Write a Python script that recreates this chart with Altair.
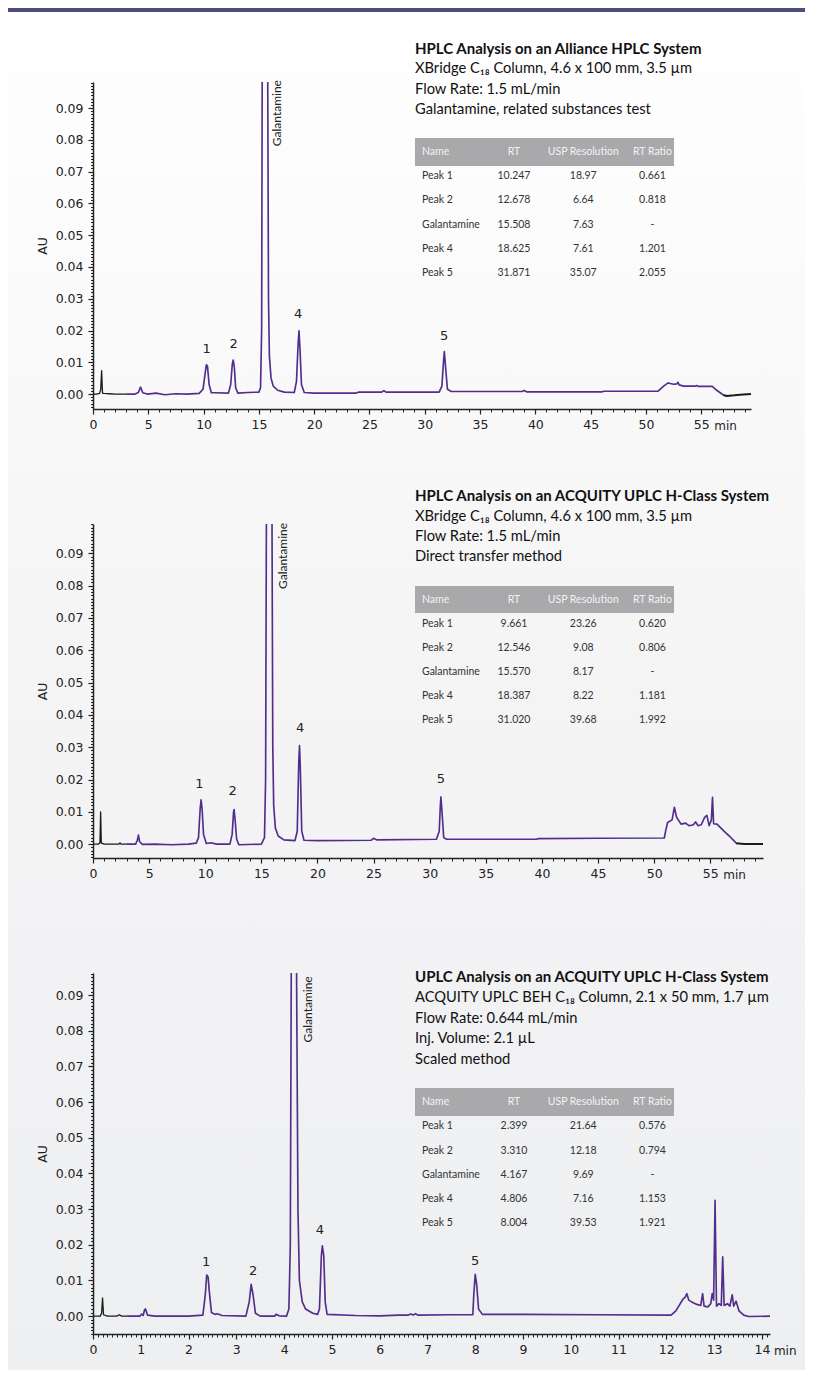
import altair as alt
import pandas as pd

# ---------------- data ----------------
# Panel 1: Alliance HPLC  (t in min, AU)
p1_pre = [(0.0, 0.0), (0.3, 0.0), (0.6, 0.0002), (0.7, 0.0015), (0.78, 0.0074), (0.86, 0.0003),
          (1.0, 0.0002), (1.5, 0.0001), (2.0, 0.0), (2.5, 0.0), (3.0, 0.0)]
p1_main = [(3.0, 0.0), (3.8, 0.0), (4.1, 0.0005), (4.3, 0.0022), (4.5, 0.0004), (4.9, 0.0),
           (5.7, 0.0003), (6.5, -0.0002), (7.5, 0.0001), (8.5, 0.0), (9.6, 0.0002), (9.95, 0.0015),
           (10.1, 0.0055), (10.25, 0.0092), (10.35, 0.0088), (10.5, 0.003), (10.7, 0.0004),
           (11.0, 0.0004), (12.25, 0.0003), (12.45, 0.003), (12.6, 0.0095), (12.68, 0.0107),
           (12.78, 0.0085), (12.9, 0.002), (13.1, 0.0003), (14.0, 0.0005), (15.0, 0.0006),
           (15.15, 0.002), (15.25, 0.02), (15.3, 0.1), (15.55, 0.104), (15.8, 0.1), (15.87, 0.03),
           (15.95, 0.012), (16.1, 0.005), (16.3, 0.0025), (16.7, 0.0012), (17.3, 0.0006),
           (18.2, 0.0005), (18.4, 0.004), (18.55, 0.016), (18.63, 0.0199), (18.72, 0.014),
           (18.85, 0.003), (19.1, 0.0005), (20.0, 0.0003), (23.8, 0.0003), (24.0, 0.0006),
           (26.1, 0.0006), (26.3, 0.0011), (26.5, 0.0006), (31.3, 0.0006), (31.55, 0.0025),
           (31.7, 0.0105), (31.77, 0.0134), (31.87, 0.009), (32.05, 0.0015), (32.4, 0.0008),
           (38.8, 0.0008), (39.0, 0.0011), (39.2, 0.0007), (46.0, 0.0007), (46.2, 0.0009),
           (51.1, 0.0009), (51.6, 0.0025), (52.0, 0.0035), (52.5, 0.0031), (52.8, 0.0032),
           (52.9, 0.0037), (53.0, 0.0029), (53.4, 0.0025), (54.5, 0.0025), (54.6, 0.0027),
           (54.7, 0.0024), (56.0, 0.0024), (56.4, 0.0012), (57.0, -0.0003)]
p1_post = [(57.0, -0.0003), (57.3, -0.0006), (58.0, -0.0004), (58.5, -0.0002), (59.5, 0.0)]
p1_peak_t = [10.28, 12.72, 18.56, 31.76]
p1_peak_au = [0.0142, 0.0158, 0.0253, 0.0183]
p1_gal = (16.66, 0.0884)

# Panel 2: ACQUITY UPLC H-Class, HPLC method
p2_pre = [(0.0, 0.0), (0.5, 0.0), (0.62, 0.0005), (0.68, 0.0100), (0.74, 0.0003), (1.0, 0.0),
          (2.3, 0.0), (2.4, 0.0004), (2.5, 0.0), (2.9, 0.0)]
p2_main = [(2.9, 0.0), (3.8, 0.0), (3.95, 0.0012), (4.05, 0.0028), (4.15, 0.0008), (4.4, -0.0001),
           (5.5, 0.0), (7.0, -0.0002), (8.5, 0.0), (9.2, 0.0003), (9.4, 0.002), (9.55, 0.011),
           (9.63, 0.0137), (9.72, 0.011), (9.85, 0.003), (10.1, 0.0002), (10.5, 0.0004), (11.0, 0.0),
           (12.2, 0.0), (12.4, 0.003), (12.52, 0.0098), (12.57, 0.0107), (12.65, 0.008),
           (12.8, 0.0015), (13.0, -0.0002), (15.0, 0.0), (15.28, 0.002), (15.38, 0.02),
           (15.45, 0.1), (15.7, 0.104), (15.95, 0.1), (16.02, 0.03), (16.1, 0.012), (16.25, 0.005),
           (16.5, 0.0025), (17.0, 0.0013), (18.0, 0.0011), (18.2, 0.004), (18.33, 0.025),
           (18.4, 0.0305), (18.47, 0.024), (18.6, 0.004), (18.8, 0.0012), (20.0, 0.0011),
           (24.8, 0.0012), (25.0, 0.0018), (25.3, 0.0013), (30.6, 0.0015), (30.85, 0.004),
           (30.95, 0.012), (31.0, 0.0146), (31.08, 0.011), (31.25, 0.002), (31.5, 0.0015),
           (39.5, 0.0015), (39.7, 0.0017), (45.0, 0.0018), (50.9, 0.0019), (51.05, 0.0045),
           (51.2, 0.0067), (51.6, 0.0075), (51.8, 0.0114), (52.0, 0.0083), (52.4, 0.0062),
           (52.8, 0.0065), (53.1, 0.0057), (53.5, 0.006), (53.7, 0.0069), (53.9, 0.0057),
           (54.2, 0.006), (54.5, 0.0083), (54.7, 0.0089), (54.9, 0.0057), (55.1, 0.0075),
           (55.2, 0.0145), (55.3, 0.0063), (55.6, 0.0062), (56.2, 0.0041), (56.7, 0.0025),
           (57.1, 0.0011), (57.3, 0.0003)]
p2_post = [(57.3, 0.0003), (58.0, 0.0), (59.7, 0.0)]
p2_peak_t = [9.48, 12.44, 18.46, 31.0]
p2_peak_au = [0.0186, 0.0165, 0.0361, 0.0201]
p2_gal = (16.89, 0.0892)

# Panel 3: ACQUITY UPLC H-Class, UPLC scaled method
p3_pre = [(0.0, 0.0), (0.15, 0.0), (0.18, 0.0008), (0.2, 0.0051), (0.22, 0.0004), (0.3, 0.0),
          (0.5, 0.0), (0.55, 0.0004), (0.6, 0.0), (0.71, 0.0)]
p3_main = [(0.71, 0.0), (0.98, 0.0), (1.02, 0.0006), (1.05, 0.0002), (1.08, 0.0018), (1.1, 0.002),
           (1.14, 0.0003), (1.3, 0.0), (2.0, 0.0), (2.3, 0.0003), (2.35, 0.006), (2.38, 0.0115),
           (2.41, 0.011), (2.43, 0.0075), (2.48, 0.001), (2.55, 0.0005), (2.6, 0.0007),
           (2.7, 0.0002), (3.2, 0.0), (3.27, 0.004), (3.31, 0.0089), (3.35, 0.006), (3.4, 0.0008),
           (3.5, 0.0), (3.8, 0.0), (3.83, 0.0005), (3.9, 0.0001), (4.05, 0.0), (4.1, 0.002),
           (4.13, 0.02), (4.15, 0.098), (4.2, 0.101), (4.26, 0.098), (4.29, 0.03), (4.32, 0.01),
           (4.38, 0.004), (4.45, 0.002), (4.6, 0.0008), (4.7, 0.0005), (4.74, 0.002),
           (4.78, 0.017), (4.80, 0.0197), (4.83, 0.017), (4.86, 0.004), (4.9, 0.0005),
           (5.5, 0.0002), (6.0, 0.0001), (6.4, 0.0003), (6.6, 0.0003), (6.65, 0.0006),
           (6.7, 0.0003), (6.75, 0.0007), (6.8, 0.0003), (7.5, 0.0004), (7.95, 0.0004),
           (7.97, 0.006), (8.0, 0.0117), (8.03, 0.009), (8.07, 0.002), (8.15, 0.0005),
           (9.0, 0.0005), (10.5, 0.0004), (12.1, 0.0003), (12.2, 0.0015), (12.35, 0.0048),
           (12.4, 0.0054), (12.43, 0.0063), (12.47, 0.0045), (12.53, 0.004), (12.64, 0.0033),
           (12.72, 0.003), (12.76, 0.0063), (12.79, 0.0028), (12.87, 0.0026), (12.93, 0.0035),
           (12.96, 0.0063), (12.99, 0.0045), (13.02, 0.0325), (13.05, 0.0028), (13.1, 0.0035),
           (13.15, 0.003), (13.18, 0.0166), (13.21, 0.003), (13.28, 0.0035), (13.33, 0.0028),
           (13.38, 0.006), (13.41, 0.0028), (13.46, 0.0042), (13.52, 0.0015), (13.62, 0.0003),
           (13.72, -0.0001), (14.21, 0.0)]
p3_post = []
p3_peak_t = [2.37, 3.35, 4.75, 8.0]
p3_peak_au = [0.0151, 0.0127, 0.0241, 0.0155]
p3_gal = (4.51, 0.0860)

peak_labels = ["1", "2", "4", "5"]

# tables
tbl_headers = ["Name", "RT", "USP Resolution", "RT Ratio"]
tbl_names = ["Peak 1", "Peak 2", "Galantamine", "Peak 4", "Peak 5"]
t1_rt = ["10.247", "12.678", "15.508", "18.625", "31.871"]
t1_res = ["18.97", "6.64", "7.63", "7.61", "35.07"]
t1_ratio = ["0.661", "0.818", "-", "1.201", "2.055"]
t2_rt = ["9.661", "12.546", "15.570", "18.387", "31.020"]
t2_res = ["23.26", "9.08", "8.17", "8.22", "39.68"]
t2_ratio = ["0.620", "0.806", "-", "1.181", "1.992"]
t3_rt = ["2.399", "3.310", "4.167", "4.806", "8.004"]
t3_res = ["21.64", "12.18", "9.69", "7.16", "39.53"]
t3_ratio = ["0.576", "0.794", "-", "1.153", "1.921"]

p1_title = "HPLC Analysis on an Alliance HPLC System"
p1_sub = ["XBridge C\u2081\u2088 Column, 4.6 x 100 mm, 3.5 \u00b5m", "Flow Rate: 1.5 mL/min",
          "Galantamine, related substances test"]
p2_title = "HPLC Analysis on an ACQUITY UPLC H-Class System"
p2_sub = ["XBridge C\u2081\u2088 Column, 4.6 x 100 mm, 3.5 \u00b5m", "Flow Rate: 1.5 mL/min",
          "Direct transfer method"]
p3_title = "UPLC Analysis on an ACQUITY UPLC H-Class System"
p3_sub = ["ACQUITY UPLC BEH C\u2081\u2088 Column, 2.1 x 50 mm, 1.7 \u00b5m", "Flow Rate: 0.644 mL/min",
          "Inj. Volume: 2.1 \u00b5L", "Scaled method"]

y_major = [0.0, 0.01, 0.02, 0.03, 0.04, 0.05, 0.06, 0.07, 0.08, 0.09]

# ---------------- styling ----------------
FONT_AX = "DejaVu Sans"
FONT_TX = "Lato"
PURPLE = "#532d8d"
INK = "#222222"


def trace_df(pre, main, post):
    rows = []
    for seg, pts in (("pre", pre), ("main", main), ("post", post)):
        for t, a in pts:
            rows.append({"t": t, "au": a, "seg": seg})
    return pd.DataFrame(rows)


def table_df(rt, res, ratio):
    rows = []
    for c, h in enumerate(tbl_headers):
        rows.append({"col": c, "row": 0, "txt": h, "kind": "head"})
    for r in range(5):
        for c, v in enumerate([tbl_names[r], rt[r], res[r], ratio[r]]):
            rows.append({"col": c, "row": r + 1, "txt": v, "kind": "body"})
    return pd.DataFrame(rows)


def panel(trace, pk_t, pk_au, gal, xdom, ydom, w, h, xmaj, xminor, yminor, max_tick, min_dx,
          title, subs, title_y, sub_range, tbl, rect_y, row_range, extra=()):
    xs = alt.Scale(domain=xdom, nice=False, zero=False)
    ys = alt.Scale(domain=ydom, nice=False, zero=False)
    layers = list(extra)

    minor = alt.Chart(trace).mark_point(opacity=0).encode(
        x=alt.X("t:Q", scale=xs, axis=alt.Axis(orient="bottom", values=xminor, labels=False,
                                               domain=False, tickSize=3, tickWidth=1, title=None,
                                               grid=False, zindex=2)),
        y=alt.Y("au:Q", scale=ys, axis=alt.Axis(orient="left", values=yminor, labels=False,
                                                domain=False, tickSize=2.5, tickWidth=1,
                                                title=None, grid=False, zindex=2)),
    )
    line = alt.Chart(trace).mark_line(clip=True, strokeJoin="round").encode(
        x=alt.X("t:Q", scale=xs, axis=alt.Axis(orient="bottom", values=xmaj, format="d",
                                               tickSize=5, labelPadding=4, title=None,
                                               labelFlush=False, labelOverlap=False, zindex=2)),
        y=alt.Y("au:Q", scale=ys, axis=alt.Axis(orient="left", values=y_major, format=".2f",
                                                tickSize=5, labelPadding=5, title="AU",
                                                titlePadding=6, labelFlush=False, zindex=2)),
        color=alt.Color("seg:N", scale=alt.Scale(domain=["pre", "main", "post"],
                                                 range=["#1b1b1b", PURPLE, "#1b1b1b"]),
                        legend=None),
        strokeWidth=alt.StrokeWidth("seg:N", scale=alt.Scale(domain=["pre", "main", "post"],
                                                             range=[1.3, 2.0, 1.3]),
                                    legend=None),
    )
    pk = pd.DataFrame({"t": pk_t, "au": pk_au, "lab": peak_labels})
    labels = alt.Chart(pk).mark_text(font=FONT_AX, fontSize=13, color=INK, baseline="middle").encode(
        x=alt.X("t:Q", scale=xs, axis=None), y=alt.Y("au:Q", scale=ys, axis=None), text="lab:N")
    gdf = pd.DataFrame({"t": [gal[0]], "au": [gal[1]], "lab": ["Galantamine"]})
    galt = alt.Chart(gdf).mark_text(font=FONT_TX, fontSize=12, angle=270, color=INK,
                                    baseline="middle", align="center").encode(
        x=alt.X("t:Q", scale=xs, axis=None), y=alt.Y("au:Q", scale=ys, axis=None), text="lab:N")
    mdf = pd.DataFrame({"t": [max_tick], "txt": ["min"]})
    minlab = alt.Chart(mdf).mark_text(font=FONT_AX, fontSize=12, color=INK, align="left",
                                      baseline="middle", dx=min_dx).encode(
        x=alt.X("t:Q", scale=xs, axis=None), y=alt.value(h + 17), text="txt:N")

    tdf = pd.DataFrame({"txt": [title]})
    ttl = alt.Chart(tdf).mark_text(font=FONT_TX, fontSize=15, fontWeight="bold", align="left",
                                   baseline="middle", color="#111111").encode(
        x=alt.value(322), y=alt.value(title_y), text="txt:N")
    sdf = pd.DataFrame({"txt": subs, "line": list(range(len(subs)))})
    sub = alt.Chart(sdf).mark_text(font=FONT_TX, fontSize=14.7, align="left", baseline="middle",
                                   color="#111111").encode(
        x=alt.value(322),
        y=alt.Y("line:Q", scale=alt.Scale(domain=[0, len(subs) - 1], range=sub_range), axis=None),
        text="txt:N")

    hdr = alt.Chart(pd.DataFrame({"a": [0]})).mark_rect(color="#a9a9ab").encode(
        x=alt.value(322), x2=alt.value(581), y=alt.value(rect_y[0]), y2=alt.value(rect_y[1]))
    tcolor = alt.Color("kind:N", scale=alt.Scale(domain=["head", "body"],
                                                 range=["#f2f2f2", "#333333"]), legend=None)
    rows_y = alt.Y("row:Q", scale=alt.Scale(domain=[0, 5], range=row_range), axis=None)
    names = alt.Chart(tbl).transform_filter("datum.col == 0").mark_text(
        font=FONT_TX, fontSize=10.5, align="left", baseline="middle").encode(
        x=alt.value(329), y=rows_y, text="txt:N", color=tcolor)
    vals = alt.Chart(tbl).transform_filter("datum.col > 0").mark_text(
        font=FONT_TX, fontSize=10.5, align="center", baseline="middle").encode(
        x=alt.X("col:Q", scale=alt.Scale(domain=[1, 3], range=[421, 559.5]), axis=None),
        y=rows_y, text="txt:N", color=tcolor)

    layers += [minor, line, labels, galt, minlab, ttl, sub, hdr, names, vals]
    return alt.layer(*layers).resolve_scale(
        x="independent", y="independent", color="independent", strokeWidth="independent"
    ).properties(width=w, height=h)


bg = alt.Chart(pd.DataFrame({"a": [0]})).mark_rect(
    fill={"gradient": "linear", "x1": 0, "y1": 0, "x2": 0, "y2": 1,
          "stops": [{"offset": 0, "color": "#ffffff"},
                    {"offset": 0.45, "color": "#f5f5f6"},
                    {"offset": 1, "color": "#eeeff1"}]}).encode(
    x=alt.value(-85), x2=alt.value(712), y=alt.value(-74), y2=alt.value(1288))
frame = alt.Chart(pd.DataFrame({"a": [0]})).mark_rect(fill="#4b4e7b").encode(
    x=alt.value(-85), x2=alt.value(712), y=alt.value(-74), y2=alt.value(-70))

yminor1 = [round(i * 0.001, 3) for i in range(-4, 99)]
yminor2 = [round(i * 0.001, 3) for i in range(-4, 100)]
yminor3 = [round(i * 0.001, 3) for i in range(-5, 97)]

c1 = panel(trace_df(p1_pre, p1_main, p1_post), p1_peak_t, p1_peak_au, p1_gal,
           [0, 59.5], [-0.0047, 0.0982], 658, 327,
           list(range(0, 60, 5)), list(range(0, 60)), yminor1, 55, 13,
           p1_title, p1_sub, -33, [-13, 28], table_df(t1_rt, t1_res, t1_ratio),
           [56, 84], [70, 191], extra=(bg, frame))
c2 = panel(trace_df(p2_pre, p2_main, p2_post), p2_peak_t, p2_peak_au, p2_gal,
           [0, 59.7], [-0.0043, 0.0991], 670, 334,
           list(range(0, 60, 5)), list(range(0, 60)), yminor2, 55, 13,
           p2_title, p2_sub, -28, [-7, 33], table_df(t2_rt, t2_res, t2_ratio),
           [62, 89], [75.5, 196])
c3 = panel(trace_df(p3_pre, p3_main, p3_post), p3_peak_t, p3_peak_au, p3_gal,
           [0, 14.17], [-0.005, 0.0962], 677, 361,
           list(range(0, 15)), [round(i * 0.1, 1) for i in range(0, 142)], yminor3, 14, 12,
           p3_title, p3_sub, 4, [25, 87], table_df(t3_rt, t3_res, t3_ratio),
           [115, 143], [129, 250.3])

chart = alt.vconcat(c1, c2, c3, spacing=115, bounds="flush").properties(
    padding=0, background="#ffffff"
).configure_view(strokeWidth=0).configure_axis(
    labelFont=FONT_AX, labelFontSize=12.5, labelColor=INK, domainColor=INK, tickColor=INK,
    domainWidth=1.5, tickWidth=1.2, titleFont=FONT_AX, titleFontSize=12.5,
    titleFontWeight="normal", titleColor=INK, grid=False)

chart.save("out.html", embed_options={"renderer": "svg", "actions": False})
